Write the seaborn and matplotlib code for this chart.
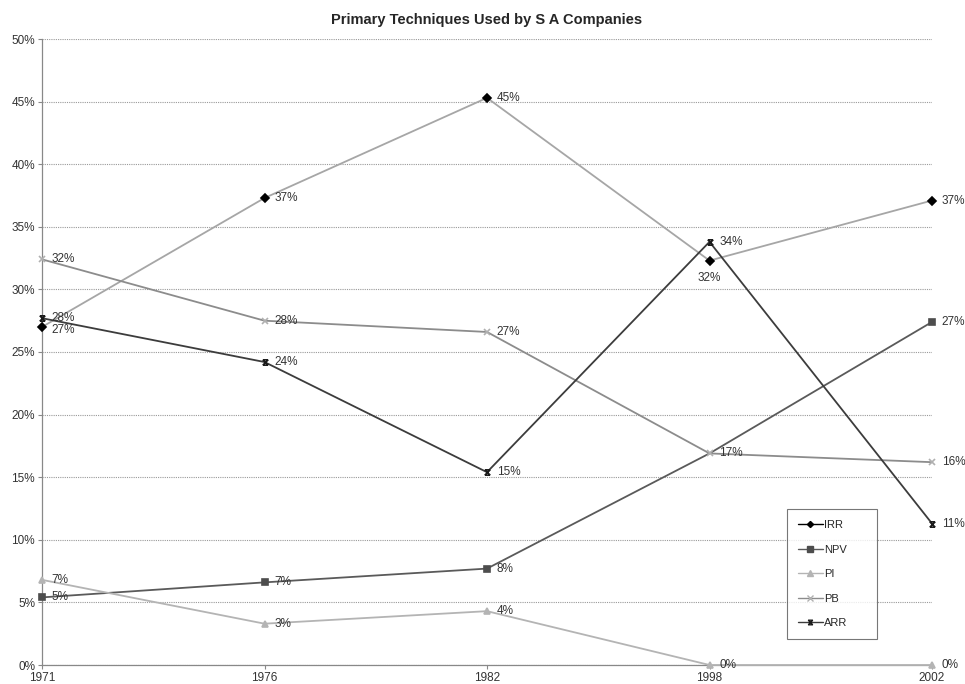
import pandas as pd
import seaborn as sns
import matplotlib.pyplot as plt
from matplotlib.path import Path
from matplotlib.lines import Line2D
from matplotlib.ticker import PercentFormatter

years = ["1971", "1976", "1982", "1998", "2002"]
irr = [27.0, 37.3, 45.3, 32.3, 37.1]
npv = [5.4, 6.6, 7.7, 16.9, 27.4]
pi = [6.8, 3.3, 4.3, 0.0, 0.0]
pb = [32.4, 27.5, 26.6, 16.9, 16.2]
arr = [27.7, 24.2, 15.4, 33.8, 11.3]

# excel-ish "star" marker: x with top/bottom bars
star = Path(
    [(-1, -1), (1, 1), (-1, 1), (1, -1), (-1, 1), (1, 1), (-1, -1), (1, -1)],
    [Path.MOVETO, Path.LINETO, Path.MOVETO, Path.LINETO,
     Path.MOVETO, Path.LINETO, Path.MOVETO, Path.LINETO],
)

styles = {
    "IRR": dict(vals=irr, line="#a6a6a6", mk="D", mc="#000000", ms=3.6),
    "NPV": dict(vals=npv, line="#5a5a5a", mk="s", mc="#4d4d4d", ms=4.6),
    "PI": dict(vals=pi, line="#b4b4b4", mk="^", mc="#b4b4b4", ms=4.8),
    "PB": dict(vals=pb, line="#8c8c8c", mk="x", mc="#b0b0b0", ms=4.8),
    "ARR": dict(vals=arr, line="#3c3c3c", mk=star, mc="#1a1a1a", ms=3.8),
}
# NPV's 1998 point sits under the PB marker in the original: no marker/label there
hidden = {("NPV", 3)}

rows = []
for name, st in styles.items():
    for i, v in enumerate(st["vals"]):
        rows.append({"series": name, "pos": i, "year": years[i], "value": v})
df = pd.DataFrame(rows)

sns.set_style("white")
plt.rcParams["font.family"] = ["Liberation Sans", "DejaVu Sans"]

fig = plt.figure(figsize=(9.65, 6.84), dpi=100)
ax = fig.add_axes([42 / 965, 19 / 684, 890 / 965, 626 / 684])

for name, st in styles.items():
    sub = df[df["series"] == name]
    sns.lineplot(data=sub, x="pos", y="value", ax=ax, color=st["line"], lw=1.3,
                 sort=False, legend=False, zorder=3)
    keep = [i for i in range(len(years)) if (name, i) not in hidden]
    ax.plot(sub["pos"], sub["value"], linestyle="", marker=st["mk"], ms=st["ms"],
            color=st["mc"], mec=st["mc"], mew=1.2, zorder=4, markevery=keep)
for ln in ax.lines:
    ln.set_clip_on(False)

# data labels
for name, st in styles.items():
    for i, v in enumerate(st["vals"]):
        if (name, i) in hidden:
            continue
        if name == "IRR" and years[i] == "1998":
            ax.annotate(f"{v:.0f}%", (i, v), xytext=(0, -8), textcoords="offset points",
                        ha="center", va="top", fontsize=8.5, color="#333333", zorder=5)
            continue
        dy = -2 if (name == "IRR" and i == 0) else 0
        ax.annotate(f"{v:.0f}%", (i, v), xytext=(7, dy), textcoords="offset points",
                    ha="left", va="center", fontsize=8.5, color="#333333", zorder=5)

ax.set_xlim(0, 4)
ax.set_ylim(0, 50)
ax.set_xticks(range(len(years)))
ax.set_xticklabels(years)
ax.set_yticks(range(0, 51, 5))
ax.yaxis.set_major_formatter(PercentFormatter(decimals=0))
ax.tick_params(axis="both", labelsize=8.5, colors="#333333", length=3, width=0.8, direction="out",
               color="#888888", left=True, bottom=True, pad=2)
ax.set_xlabel("")
ax.set_ylabel("")
ax.grid(axis="y", linestyle=(0, (1, 1)), color="#999999", lw=0.8)
ax.set_axisbelow(True)
for side in ["top", "right"]:
    ax.spines[side].set_visible(False)
for side in ["left", "bottom"]:
    ax.spines[side].set_color("#888888")
    ax.spines[side].set_linewidth(0.9)

ax.set_title("Primary Techniques Used by S A Companies", fontsize=10.5, fontweight="bold", pad=11)

handles = [
    Line2D([], [], color=st["line"] if name != "IRR" else "#000000", lw=1.0,
           marker=st["mk"], ms=st["ms"] - 0.5, mfc=st["mc"], mec=st["mc"], label=name)
    for name, st in styles.items()
]
leg = ax.legend(handles=handles, loc="upper left", bbox_to_anchor=(745 / 890, 0.249, 90 / 890, 0.0),
                mode="expand", fontsize=8, frameon=True, fancybox=False, handlelength=2.2,
                handletextpad=0.1, labelspacing=1.3, borderpad=1.0, borderaxespad=0)
leg.get_frame().set_edgecolor("#555555")
leg.get_frame().set_linewidth(0.8)

fig.savefig("out.png", dpi=100, facecolor="white")
